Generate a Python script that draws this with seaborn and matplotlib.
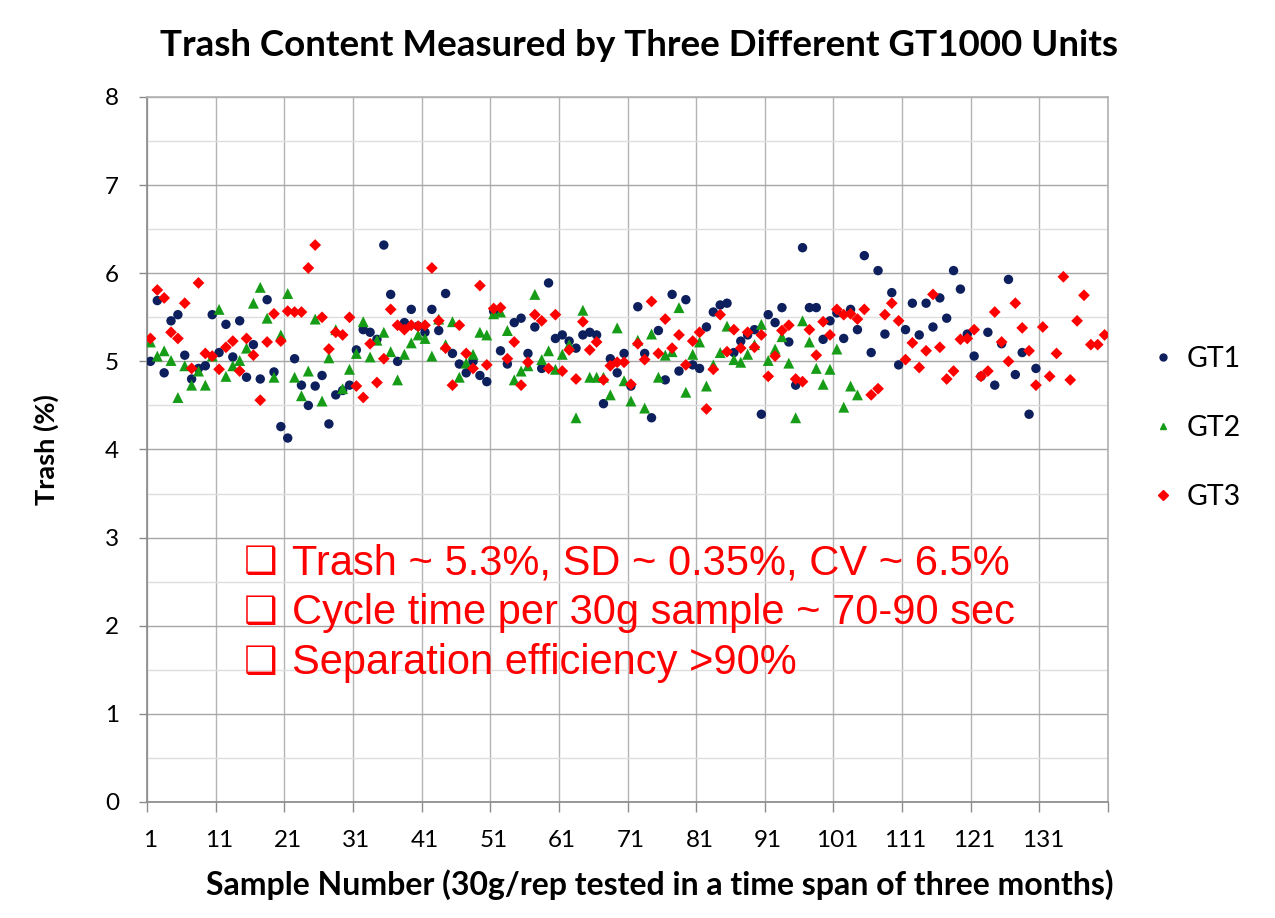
import numpy as np
import pandas as pd
import matplotlib
matplotlib.use('Agg')
import matplotlib.pyplot as plt
from matplotlib.lines import Line2D
import seaborn as sns

# Trash (%), one value per sample number
gt1 = [5.00, 5.69, 4.87, 5.46, 5.53, 5.07, 4.80, 4.92, 4.95, 5.53,
       5.10, 5.42, 5.05, 5.46, 4.82, 5.19, 4.80, 5.70, 4.88, 4.26,
       4.13, 5.03, 4.73, 4.50, 4.72, 4.84, 4.29, 4.62, 4.67, 4.73,
       5.13, 5.36, 5.33, 5.25, 6.32, 5.76, 5.00, 5.44, 5.59, 5.40,
       5.33, 5.59, 5.35, 5.77, 5.09, 4.97, 4.87, 5.00, 4.84, 4.77,
       5.57, 5.12, 4.97, 5.44, 5.49, 5.09, 5.39, 4.92, 5.89, 5.26,
       5.30, 5.23, 5.15, 5.30, 5.33, 5.30, 4.52, 5.03, 4.87, 5.09,
       4.72, 5.62, 5.09, 4.36, 5.35, 4.79, 5.76, 4.89, 5.70, 4.96,
       4.92, 5.39, 5.56, 5.64, 5.66, 5.10, 5.23, 5.30, 5.36, 4.40,
       5.53, 5.44, 5.61, 5.22, 4.73, 6.29, 5.61, 5.61, 5.25, 5.46,
       5.55, 5.26, 5.59, 5.36, 6.20, 5.10, 6.03, 5.31, 5.78, 4.96,
       5.36, 5.66, 5.30, 5.66, 5.39, 5.72, 5.49, 6.03, 5.82, 5.31,
       5.06, 4.83, 5.33, 4.73, 5.20, 5.93, 4.85, 5.10, 4.40, 4.92]

gt2 = [5.22, 5.06, 5.12, 5.01, 4.59, 4.95, 4.73, 4.89, 4.73, 5.06,
       5.59, 4.83, 4.95, 5.01, 5.15, 5.66, 5.84, 5.49, 4.82, 5.30,
       5.77, 4.82, 4.61, 4.89, 5.48, 4.55, 5.04, 5.36, 4.69, 4.91,
       5.09, 5.45, 5.05, 5.24, 5.33, 5.11, 4.79, 5.08, 5.21, 5.30,
       5.26, 5.06, 5.48, 5.19, 5.45, 4.82, 4.98, 5.08, 5.33, 5.30,
       5.54, 5.56, 5.35, 4.79, 4.89, 4.95, 5.76, 5.02, 5.12, 4.91,
       5.08, 5.19, 4.36, 5.58, 4.82, 4.82, 4.82, 4.62, 5.38, 4.78,
       4.55, 5.24, 4.47, 5.31, 4.82, 5.07, 5.11, 5.61, 4.65, 5.08,
       5.22, 4.72, 4.96, 5.10, 5.40, 5.02, 4.99, 5.08, 5.19, 5.42,
       5.01, 5.14, 5.28, 4.98, 4.36, 5.46, 5.22, 4.92, 4.74, 4.91,
       5.14, 4.48, 4.72, 4.62]

gt3 = [5.26, 5.81, 5.72, 5.33, 5.26, 5.66, 4.92, 5.89, 5.09, 5.06,
       4.91, 5.16, 5.23, 4.89, 5.26, 5.07, 4.56, 5.22, 5.54, 5.23,
       5.57, 5.56, 5.56, 6.06, 6.32, 5.50, 5.14, 5.33, 5.30, 5.50,
       4.72, 4.59, 5.20, 4.76, 5.03, 5.59, 5.41, 5.36, 5.41, 5.40,
       5.41, 6.06, 5.46, 5.15, 4.73, 5.41, 5.09, 4.92, 5.86, 4.96,
       5.60, 5.61, 5.03, 5.22, 4.73, 4.99, 5.53, 5.46, 4.92, 5.53,
       4.89, 5.13, 4.80, 5.45, 5.13, 5.22, 4.79, 4.95, 4.99, 4.99,
       4.74, 5.20, 5.02, 5.68, 5.09, 5.48, 5.15, 5.30, 4.96, 5.23,
       5.33, 4.46, 4.91, 5.53, 5.11, 5.36, 5.15, 5.33, 5.16, 5.30,
       4.83, 5.06, 5.35, 5.41, 4.80, 4.77, 5.36, 5.07, 5.45, 5.30,
       5.59, 5.53, 5.54, 5.48, 5.59, 4.62, 4.69, 5.53, 5.66, 5.46,
       5.02, 5.21, 4.93, 5.12, 5.76, 5.16, 4.80, 4.89, 5.25, 5.26,
       5.36, 4.83, 4.89, 5.56, 5.22, 5.00, 5.66, 5.38, 5.12, 4.73,
       5.39, 4.83, 5.09, 5.96, 4.79, 5.46, 5.75, 5.19, 5.19, 5.30]

units = ['GT1', 'GT2', 'GT3']
tick_labels = [str(v) for v in range(1, 132, 10)]
notes = ['Trash ~ 5.3%, SD ~ 0.35%, CV ~ 6.5%',
         'Cycle time per 30g sample ~ 70-90 sec',
         'Separation efficiency >90%']

colors = {'GT1': '#0d1f5c', 'GT2': '#169c16', 'GT3': '#ff0000'}
markers = {'GT1': 'o', 'GT2': '^', 'GT3': 'D'}
sizes = {'GT1': 46, 'GT2': 62, 'GT3': 36}

frames = []
for name, vals in zip(units, [gt1, gt2, gt3]):
    frames.append(pd.DataFrame({'sample': np.arange(1, len(vals) + 1),
                                'trash': vals, 'unit': name}))
df = pd.concat(frames, ignore_index=True)

sns.set_theme(style='white')
plt.rcParams['font.family'] = ['Lato', 'DejaVu Sans']
plt.rcParams['text.color'] = 'black'
plt.rcParams['axes.labelcolor'] = 'black'
plt.rcParams['xtick.color'] = 'black'
plt.rcParams['ytick.color'] = 'black'

W, H = 1275, 918
fig = plt.figure(figsize=(W / 100, H / 100), dpi=100)
ax = fig.add_axes([147 / W, 1 - 802 / H, (1108 - 147) / W, (802 - 97) / H])

sns.scatterplot(data=df, x='sample', y='trash', hue='unit', style='unit',
                size='unit', palette=colors, markers=markers, sizes=sizes,
                linewidth=0, legend=False, ax=ax, zorder=3)

ax.set_xlim(0.5, 140.5)
ax.set_ylim(0, 8)
ax.set_axisbelow(True)

# x: labels on sample centres, ticks/grid on every 10th boundary
ax.set_xticks(range(1, 132, 10))
ax.set_xticklabels(tick_labels)
ax.set_xticks(np.arange(0.5, 141, 10), minor=True)
ax.tick_params(axis='x', which='major', bottom=True, length=0, pad=20, labelsize=17.5)
ax.tick_params(axis='x', which='minor', bottom=True, length=7, width=1, color='#8c8c8c')
ax.grid(axis='x', which='minor', color='#b3b3b3', lw=1)

ax.set_yticks(range(0, 9))
ax.set_yticks(np.arange(0.5, 8, 1), minor=True)
ax.tick_params(axis='y', which='major', left=True, length=6, width=1,
               color='#8c8c8c', pad=14, labelsize=17.5)
ax.tick_params(axis='y', which='minor', left=False, length=0)
ax.grid(axis='y', which='major', color='#a6a6a6', lw=1)
ax.grid(axis='y', which='minor', color='#dedede', lw=1)

for side in ['left', 'bottom']:
    ax.spines[side].set_color('#8c8c8c')
for side in ['top', 'right']:
    ax.spines[side].set_color('#b3b3b3')

ax.set_xlabel('Sample Number (30g/rep tested in a time span of three months)',
              fontsize=23, fontweight='bold')
ax.xaxis.set_label_coords(0.534, -0.095)
ax.set_ylabel('Trash (%)', fontsize=19.5, fontweight='bold')
ax.yaxis.set_label_coords(-0.092, 0.5)

fig.text(639 / W, 1 - 45 / H, 'Trash Content Measured by Three Different GT1000 Units',
         ha='center', va='center', fontsize=26.5, fontweight='bold')

# summary notes
for k, line in enumerate(notes):
    y = 1 - (563 + 50 * k) / H
    fig.text(244 / W, y, '\u2751', ha='left', va='center', color='#ff0000',
             fontsize=27, fontweight='bold', family=['DejaVu Sans'])
    fig.text(292 / W, y, line, ha='left', va='center', color='#ff0000',
             fontsize=30, family=['Liberation Sans', 'DejaVu Sans'])

handles = [Line2D([], [], ls='', marker=markers[u], color=colors[u], markersize=5)
           for u in units]
fig.legend(handles, units, loc='center left', bbox_to_anchor=(1142 / W, 1 - 428 / H),
           frameon=False, fontsize=20.5, labelspacing=1.5, handlelength=0.5,
           handletextpad=0.55, borderpad=0)

fig.savefig('out.png', dpi=100)
